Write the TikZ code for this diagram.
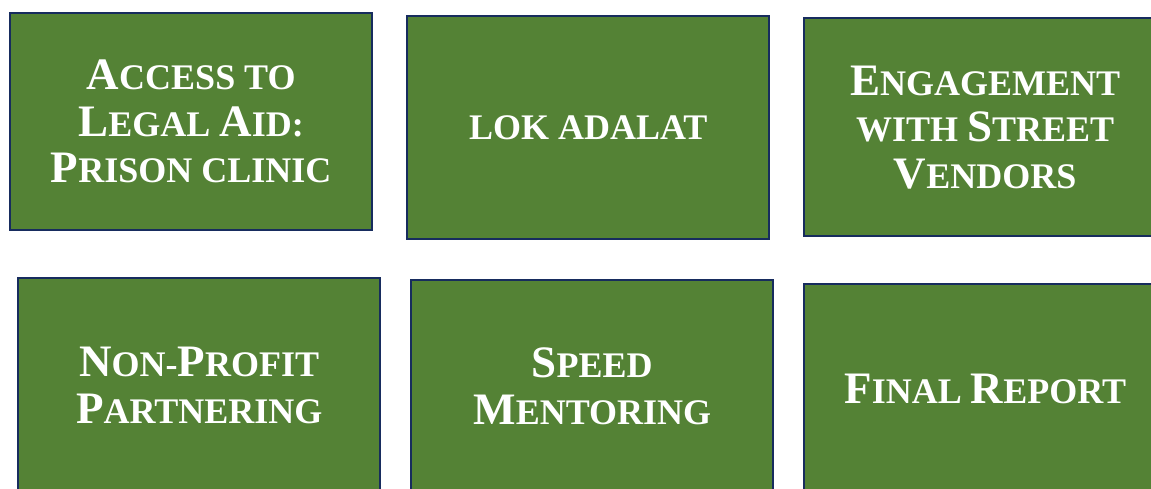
\documentclass[tikz,border=0pt]{standalone}
\usepackage{fontspec}
\setmainfont{Liberation Serif}
\definecolor{boxgreen}{HTML}{548235}
\definecolor{boxline}{HTML}{172C5E}
\newcommand\bigC[1]{{\fontsize{45}{46.5}\selectfont #1}}
\tikzset{
  panel/.style={draw=boxline, line width=2.4pt, fill=boxgreen, text=white,
    font=\bfseries\fontsize{36}{46.5}\selectfont, align=center,
    anchor=north west, inner sep=0pt},
}
\begin{document}
\begin{tikzpicture}[x=1pt,y=1pt]
\useasboundingbox (0,0) rectangle (1151,-488);
\clip (0,0) rectangle (1151,-488);
\node[panel, minimum width=362, minimum height=217] (b1) at (9,-12)
  {\bigC{A}CCESS TO\\ \bigC{L}EGAL \bigC{A}ID:\\ \bigC{P}RISON CLINIC};
\node[panel, minimum width=362, minimum height=223] (b2) at (406,-15)
  {LOK ADALAT};
\node[panel, minimum width=362, minimum height=218] (b3) at (803,-17)
  {\bigC{E}NGAGEMENT\\ WITH \bigC{S}TREET\\ \bigC{V}ENDORS};
\node[panel, minimum width=362, minimum height=214] (b4) at (17,-277)
  {\bigC{N}ON-\bigC{P}ROFIT\\ \bigC{P}ARTNERING};
\node[panel, minimum width=362, minimum height=212] (b5) at (410,-279)
  {\bigC{S}PEED\\ \bigC{M}ENTORING};
\node[panel, minimum width=362, minimum height=210] (b6) at (803,-283)
  {\bigC{F}INAL \bigC{R}EPORT};
\end{tikzpicture}
\end{document}
